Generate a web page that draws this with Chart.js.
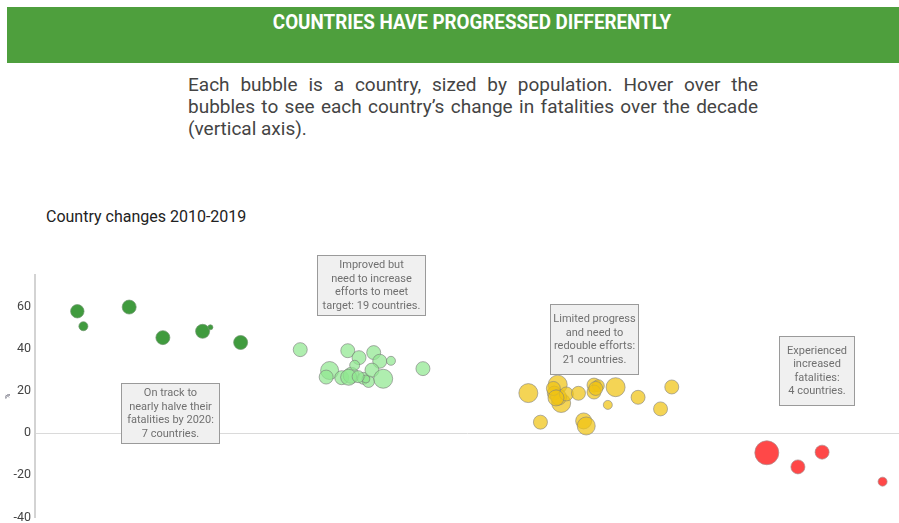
<!DOCTYPE html>
<html><head><meta charset="utf-8">
<script src="https://cdn.jsdelivr.net/npm/chart.js@4"></script>
<style>
html,body{margin:0;padding:0;width:899px;height:523px;overflow:hidden;background:#fff;font-family:Roboto,sans-serif}
#bar{position:absolute;left:7px;top:7px;width:930px;height:56px;background:#4e9f3d}
#bar span{position:absolute;left:0;right:0;top:3px;text-align:center;color:#fff;font:700 20px Roboto,sans-serif;transform:scaleX(0.94);white-space:nowrap}
#intro{position:absolute;left:188px;top:73.5px;width:570px;font-size:19px;line-height:22px;color:#444;text-align:justify}
#sub{position:absolute;left:46px;top:207px;font-size:16px;color:#222;white-space:nowrap}
#wrap{position:absolute;left:0;top:240px;width:899px;height:289px}
</style></head>
<body>
<div id="bar"><span>COUNTRIES HAVE PROGRESSED DIFFERENTLY</span></div>
<div id="intro">Each bubble is a country, sized by population. Hover over the bubbles to see each country’s change in fatalities over the decade (vertical axis).</div>
<div id="sub">Country changes 2010-2019</div>
<div id="wrap"><canvas id="c" width="899" height="289"></canvas></div>
<script>
// Data (x = position along the horizontal spread, y = % change in fatalities, r = bubble size by population)
const onTrackX = [4.9, 5.6, 10.9, 14.8, 19.4, 20.3, 23.8];
const onTrackY = [57.8, 50.7, 59.8, 45.3, 48.3, 50.2, 43.0];
const onTrackR = [6.7, 4.5, 7, 7, 7, 2.5, 7];

const improvedX = [30.7, 36.2, 37.5, 39.2, 39.9, 41.2, 44.9, 34.1, 33.7, 35.5, 36.6, 37.0, 36.3, 38.0, 38.6, 38.3, 39.0, 40.3, 37.4];
const improvedY = [39.6, 39.1, 35.8, 38.2, 34.1, 34.3, 30.6, 29.7, 26.6, 26.3, 27.4, 32.2, 26.5, 26.0, 24.5, 25.7, 29.9, 25.8, 26.8];
const improvedR = [7, 7, 7, 7, 7, 4.5, 7, 9, 7, 7, 8, 5, 8, 6, 6, 4, 7, 9.5, 6];

const limitedX = [57.1, 60.5, 60.1, 60.9, 60.6, 61.5, 62.9, 64.7, 65.2, 64.7, 67.2, 66.3, 69.8, 72.4, 73.7, 58.5, 63.5, 63.8, 60.0, 64.9, 60.3];
const limitedY = [19.0, 23.0, 19.0, 14.3, 17.1, 18.6, 18.9, 22.8, 22.5, 19.5, 21.8, 13.4, 17.0, 11.5, 21.9, 5.2, 5.8, 3.4, 21.2, 21.2, 16.7];
const limitedR = [9.5, 9.5, 7, 9.5, 8, 7, 7, 7, 6, 7, 9.5, 4.5, 7, 7, 7, 7, 8, 9, 7, 7, 8];

const increasedX = [84.7, 88.3, 91.1, 98.1];
const increasedY = [-9.3, -16.0, -9.0, -23.0];
const increasedR = [12, 7, 7, 4.5];

const yTicks = [-40, -20, 0, 20, 40, 60];

const noteTexts = [
  ["On track to", "nearly halve their", "fatalities by 2020:", "7 countries."],
  ["Improved but", "need to increase", "efforts to meet", "target: 19 countries."],
  ["Limited progress", "and need to", "redouble efforts:", "21 countries."],
  ["Experienced", "increased", "fatalities:", "4 countries."]
];
const noteX = [15.6, 38.9, 64.7, 90.5];
const noteY = [24.0, 84.4, 61.4, 46.3];

function pts(xs, ys, rs){ return xs.map((x,i)=>({x:x, y:ys[i], r:rs[i]})); }

const noteBox = [{w:98,h:60},{w:108,h:60},{w:88,h:70},{w:75,h:69}];

const notesPlugin = {
  id:'notes',
  afterDraw(chart){
    const ctx = chart.ctx, xs = chart.scales.x, ys = chart.scales.y;
    ctx.save();
    ctx.font = '11px Roboto, sans-serif';
    ctx.textAlign = 'center';
    ctx.textBaseline = 'middle';
    noteTexts.forEach((lines,i)=>{
      const cx = xs.getPixelForValue(noteX[i]);
      const top = Math.round(ys.getPixelForValue(noteY[i]));
      const w = noteBox[i].w, h = noteBox[i].h;
      const left = Math.round(cx - w/2);
      ctx.fillStyle = '#f0f0f0';
      ctx.fillRect(left, top, w, h);
      ctx.strokeStyle = '#9a9a9a';
      ctx.lineWidth = 1;
      ctx.strokeRect(left+0.5, top+0.5, w, h);
      ctx.fillStyle = '#707070';
      const lh = 13.5;
      const start = top + h/2 - (lines.length-1)*lh/2 + 0.5;
      lines.forEach((t,j)=> ctx.fillText(t, left + w/2 + 0.5, start + j*lh));
    });
    ctx.restore();
  }
};

const common = {borderWidth:1, hoverRadius:0, hoverBorderWidth:1};

new Chart(document.getElementById('c'), {
  type:'bubble',
  data:{
    datasets:[
      Object.assign({label:'On track', data:pts(onTrackX,onTrackY,onTrackR), backgroundColor:'rgb(64,155,62)', borderColor:'rgba(110,150,110,0.7)'}, common),
      Object.assign({label:'Improved', data:pts(improvedX,improvedY,improvedR), backgroundColor:'rgba(144,232,144,0.72)', borderColor:'rgba(120,120,120,0.6)'}, common),
      Object.assign({label:'Limited', data:pts(limitedX,limitedY,limitedR), backgroundColor:'rgba(240,195,20,0.72)', borderColor:'rgba(130,130,130,0.6)'}, common),
      Object.assign({label:'Increased', data:pts(increasedX,increasedY,increasedR), backgroundColor:'rgb(255,72,72)', borderColor:'rgba(170,140,140,0.7)'}, common)
    ]
  },
  options:{
    responsive:false,
    devicePixelRatio:1,
    animation:false,
    events:[],
    layout:{autoPadding:false, padding:{top:35,bottom:0,left:0,right:0}},
    plugins:{legend:{display:false}, tooltip:{enabled:false}},
    scales:{
      x:{type:'linear', min:0, max:100, display:false},
      y:{
        type:'linear', min:-40, max:75,
        afterFit(s){ s.width = 35; },
        afterBuildTicks(s){ s.ticks = yTicks.map(v=>({value:v})).concat([{value:75}]); },
        border:{display:true, color:'#d3d3d3', width:2},
        grid:{drawTicks:false, lineWidth:1, color:(c)=> (c.tick && c.tick.value===0) ? '#dadada' : 'rgba(0,0,0,0)'},
        ticks:{padding:4, color:'#444', font:{size:12.5, family:'Roboto'}, callback:(v)=> yTicks.includes(v) ? String(v) : ''},
        title:{display:true, text:'%', color:'#556', font:{size:7, family:'Roboto'}, padding:{top:4,bottom:0}}
      }
    }
  },
  plugins:[notesPlugin]
});
</script>
</body></html>
